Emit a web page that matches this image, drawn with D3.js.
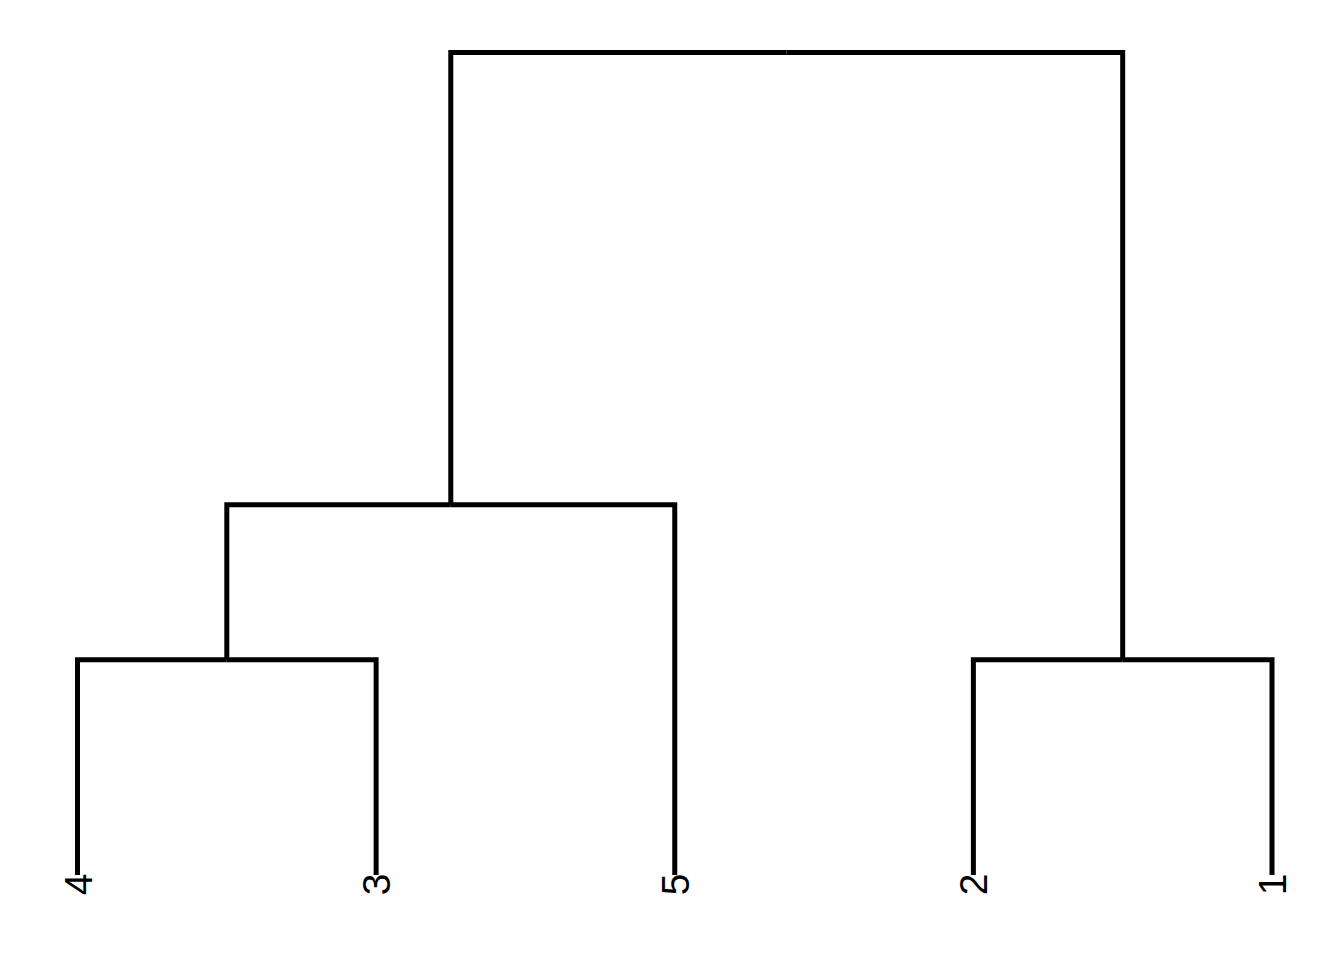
<!DOCTYPE html>
<html>
<head>
<meta charset="utf-8">
<script src="https://cdn.jsdelivr.net/npm/d3@7"></script>
<style>
  html, body { margin: 0; padding: 0; background: #ffffff; }
  svg { display: block; }
</style>
</head>
<body>
<svg id="chart" width="1344" height="960"></svg>
<script>
// Leaf labels in plotting order (left to right)
const leafLabels = ["4", "3", "5", "2", "1"];
// Merge steps (R hclust style: negative = leaf label, positive = earlier merge step)
const mergeLeft   = [-4, -2, 1, 3];
const mergeRight  = [-3, -1, -5, 2];
const mergeHeight = [1.0, 1.0, 1.72, 3.82];

const svg = d3.select("#chart");

function build(ref) {
  if (ref < 0) return { name: String(-ref), height: 0 };
  const i = ref - 1;
  return {
    name: "m" + ref,
    height: mergeHeight[i],
    children: [build(mergeLeft[i]), build(mergeRight[i])]
  };
}
const rootData = build(mergeHeight.length);
const root = d3.hierarchy(rootData);

const x = d3.scalePoint().domain(leafLabels).range([77.5, 1272]);
const y = d3.scaleLinear().domain([0, d3.max(mergeHeight)]).range([875, 52.5]);

root.eachAfter(n => {
  n.px = n.children ? d3.mean(n.children, c => c.px) : x(n.data.name);
  n.py = y(n.data.height);
});

const g = svg.append("g");
root.each(n => {
  if (!n.children) return;
  n.children.forEach(c => {
    g.append("path")
      .attr("d", `M${n.px},${n.py}H${c.px}V${c.py}`)
      .attr("fill", "none")
      .attr("stroke", "#000")
      .attr("stroke-width", 5)
      .attr("stroke-linejoin", "miter")
      .attr("stroke-linecap", "butt");
  });
});

g.selectAll("text.leaf")
  .data(root.leaves())
  .join("text")
  .attr("class", "leaf")
  .attr("transform", d => `translate(${d.px + 14},${d.py - 1.5}) rotate(-90)`)
  .attr("text-anchor", "end")
  .attr("font-family", "Liberation Sans, Arial, sans-serif")
  .attr("font-size", 39)
  .attr("fill", "#000")
  .text(d => d.data.name);
</script>
</body>
</html>
